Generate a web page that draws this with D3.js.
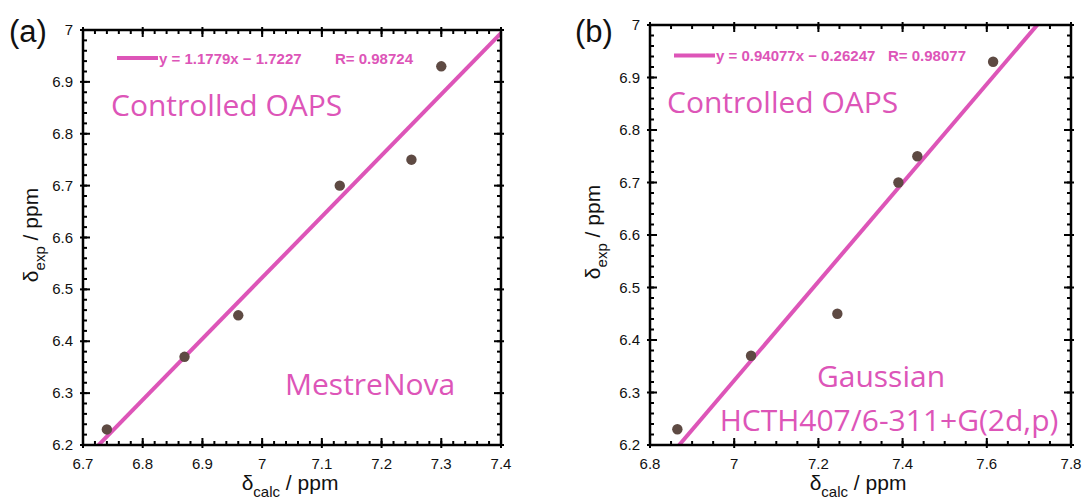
<!DOCTYPE html>
<html><head><meta charset="utf-8">
<script src="https://cdn.jsdelivr.net/npm/d3@7"></script>
<style>body{margin:0;background:#fff}svg{display:block}</style>
</head><body><svg id="c" width="1085" height="502"></svg>
<script>
// ---- data ----
const calcA = [6.74, 6.87, 6.96, 7.13, 7.25, 7.30];
const expA  = [6.23, 6.37, 6.45, 6.70, 6.75, 6.93];
const calcB = [6.865, 7.04, 7.245, 7.39, 7.435, 7.615];
const expB  = [6.23, 6.37, 6.45, 6.70, 6.75, 6.93];
const fitA = {slope: 1.1779, intercept: -1.7227};
const fitB = {slope: 0.94077, intercept: -0.26247};
const legendA = ["y = 1.1779x \u2212 1.7227", "R= 0.98724"];
const legendB = ["y = 0.94077x \u2212 0.26247", "R= 0.98077"];
const xTicksA = [6.7, 6.8, 6.9, 7.0, 7.1, 7.2, 7.3, 7.4];
const xTicksB = [6.8, 7.0, 7.2, 7.4, 7.6, 7.8];
const yTicks = [6.2, 6.3, 6.4, 6.5, 6.6, 6.7, 6.8, 6.9, 7.0];

const PINK = "#dd55b8", PT = "#5e4a43";
const svg = d3.select("#c");
const fmt = v => (Math.abs(v - Math.round(v)) < 1e-9 ? String(Math.round(v)) : v.toFixed(1));

function panel(o) {
  const x = d3.scaleLinear().domain(o.xd).range(o.xr);
  const y = d3.scaleLinear().domain([6.2, 7.0]).range(o.yr);
  const g = svg.append("g");
  const id = "clip" + o.tag;
  svg.append("clipPath").attr("id", id).append("rect")
    .attr("x", o.xr[0]).attr("y", o.yr[1]).attr("width", o.xr[1] - o.xr[0]).attr("height", o.yr[0] - o.yr[1]);

  // ticks
  const minX = d3.range(o.xd[0], o.xd[1] + 1e-9, o.xMinor);
  const minY = d3.range(6.2, 7.0 + 1e-9, 0.02);
  const tk = g.append("g").attr("stroke", "#000").attr("stroke-width", 2);
  minX.forEach(v => {
    const px = x(v);
    tk.append("line").attr("x1", px).attr("x2", px).attr("y1", o.yr[0]).attr("y2", o.yr[0] - 4);
    tk.append("line").attr("x1", px).attr("x2", px).attr("y1", o.yr[1]).attr("y2", o.yr[1] + 4);
  });
  minY.forEach(v => {
    const py = y(v);
    tk.append("line").attr("x1", o.xr[0]).attr("x2", o.xr[0] + 4).attr("y1", py).attr("y2", py);
    tk.append("line").attr("x1", o.xr[1]).attr("x2", o.xr[1] - 4).attr("y1", py).attr("y2", py);
  });
  o.xTicks.forEach(v => {
    const px = x(v);
    tk.append("line").attr("x1", px).attr("x2", px).attr("y1", o.yr[0] + 3).attr("y2", o.yr[0] - 7);
    tk.append("line").attr("x1", px).attr("x2", px).attr("y1", o.yr[1] - 3).attr("y2", o.yr[1] + 7);
  });
  yTicks.forEach(v => {
    const py = y(v);
    tk.append("line").attr("x1", o.xr[0] - 3).attr("x2", o.xr[0] + 7).attr("y1", py).attr("y2", py);
    tk.append("line").attr("x1", o.xr[1] + 3).attr("x2", o.xr[1] - 7).attr("y1", py).attr("y2", py);
  });

  // tick labels
  const lab = g.append("g").attr("font-family", "Liberation Sans, Arial, sans-serif").attr("font-size", 15).attr("fill", "#111");
  o.xTicks.forEach(v => lab.append("text").attr("x", x(v)).attr("y", o.yr[0] + 23.5).attr("text-anchor", "middle").text(fmt(v)));
  yTicks.forEach(v => lab.append("text").attr("x", o.xr[0] - 10).attr("y", y(v) + 5).attr("text-anchor", "end").text(fmt(v)));

  // fit line
  const x0 = o.xd[0], x1 = o.xd[1];
  g.append("line").attr("clip-path", `url(#${id})`)
    .attr("x1", x(x0)).attr("y1", y(o.fit.slope * x0 + o.fit.intercept))
    .attr("x2", x(x1)).attr("y2", y(o.fit.slope * x1 + o.fit.intercept))
    .attr("stroke", PINK).attr("stroke-width", 4);

  // points
  g.append("g").selectAll("circle").data(o.cx).join("circle")
    .attr("cx", d => x(d)).attr("cy", (d, i) => y(o.cy[i])).attr("r", 5.2).attr("fill", PT);

  // frame
  g.append("rect").attr("x", o.xr[0]).attr("y", o.yr[1]).attr("width", o.xr[1] - o.xr[0]).attr("height", o.yr[0] - o.yr[1])
    .attr("fill", "none").attr("stroke", "#000").attr("stroke-width", 2.5);

  // legend
  g.append("line").attr("x1", o.leg.x).attr("x2", o.leg.x + 41).attr("y1", o.leg.y).attr("y2", o.leg.y)
    .attr("stroke", PINK).attr("stroke-width", 4);
  const lt = g.append("g").attr("font-family", "Liberation Sans, Arial, sans-serif").attr("font-size", 15).attr("font-weight", "bold").attr("fill", PINK);
  lt.append("text").attr("x", o.leg.x + 42).attr("y", o.leg.y + 5.5).text(o.legText[0]);
  lt.append("text").attr("x", o.leg.rx).attr("y", o.leg.y + 5.5).text(o.legText[1]);

  // axis titles
  const tt = g.append("g").attr("font-family", "Liberation Sans, Arial, sans-serif").attr("fill", "#111");
  const xt = tt.append("text").attr("x", o.xTitleX).attr("y", 490).attr("text-anchor", "middle").attr("font-size", 21);
  xt.append("tspan").text("\u03b4");
  xt.append("tspan").attr("font-size", 15).attr("dy", 7).text("calc");
  xt.append("tspan").attr("dy", -7).text(" / ppm");
  const yt = tt.append("text").attr("transform", `translate(${o.yTitleX},${o.yTitleY}) rotate(-90)`).attr("text-anchor", "middle").attr("font-size", 21);
  yt.append("tspan").text("\u03b4");
  yt.append("tspan").attr("font-size", 15).attr("dy", 7).text("exp");
  yt.append("tspan").attr("dy", -7).text(" / ppm");

  // panel label
  tt.append("text").attr("x", o.tagX).attr("y", 42).attr("font-size", 31).text(`(${o.tag})`);

  // annotations
  const an = g.append("g").attr("font-family", "Open Sans, Lato, sans-serif").attr("font-size", 30).attr("fill", PINK);
  o.notes.forEach(n => an.append("text").attr("x", n[0]).attr("y", n[1]).attr("text-anchor", n[3] || "start").text(n[2]));
}

panel({tag: "a", xd: [6.7, 7.4], xr: [83, 501], yr: [445, 30], xMinor: 0.02, xTicks: xTicksA,
  cx: calcA, cy: expA, fit: fitA, legText: legendA, leg: {x: 117, y: 58, rx: 335},
  xTitleX: 290, yTitleX: 38, yTitleY: 235, tagX: 9,
  notes: [[111, 116, "Controlled OAPS"], [285, 395, "MestreNova"]]});

panel({tag: "b", xd: [6.8, 7.8], xr: [650, 1071], yr: [445, 25], xMinor: 0.05, xTicks: xTicksB,
  cx: calcB, cy: expB, fit: fitB, legText: legendB, leg: {x: 674, y: 55.5, rx: 888},
  xTitleX: 858, yTitleX: 600, yTitleY: 232, tagX: 575,
  notes: [[667, 113, "Controlled OAPS"], [881, 387, "Gaussian", "middle"], [889, 431, "HCTH407/6-311+G(2d,p)", "middle"]]});
</script></body></html>
